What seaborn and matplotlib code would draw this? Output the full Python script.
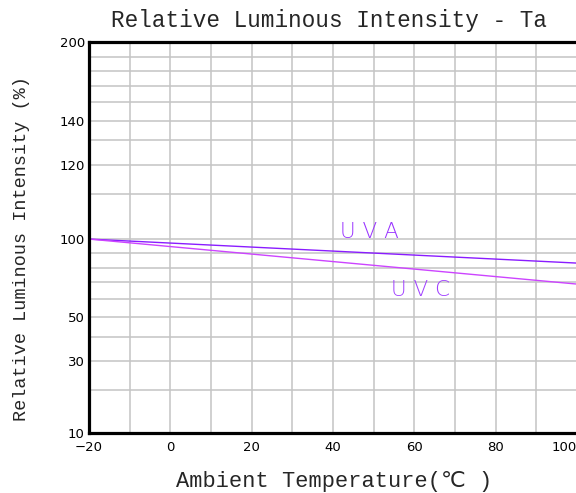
import numpy as np
import pandas as pd
import matplotlib
matplotlib.use("Agg")
import matplotlib.pyplot as plt
import seaborn as sns

# data
temps = [-20, 100]
uva = [100, 83.3]
uvc = [100, 68.8]

x_major = [-20, 0, 20, 40, 60, 80, 100]
x_minor = list(range(-20, 101, 10))

# the chart uses an odd compressed scale: grid values and where they sit (0 = bottom, 1 = top)
y_grid = [10, 20, 30, 40, 50, 60, 70, 80, 90, 100,
          110, 120, 130, 140, 150, 160, 170, 180, 200]
y_grid_pos = [0.0, 0.110, 0.184, 0.246, 0.297, 0.343, 0.386, 0.422, 0.460, 0.496,
              0.611, 0.685, 0.749, 0.798, 0.847, 0.887, 0.926, 0.962, 1.0]
y_labels = [10, 30, 50, 100, 120, 140, 200]

df = pd.DataFrame({
    "Ta": temps * 2,
    "value": uva + uvc,
    "series": ["UVA"] * len(temps) + ["UVC"] * len(temps),
})

sns.set_theme(style="white")
mono = ["Liberation Mono", "DejaVu Sans Mono", "DejaVu Sans"]

fig = plt.figure(figsize=(5.76, 4.93), dpi=100)
ax = fig.add_axes([89 / 576, 60 / 493, 488 / 576, 391 / 493])


def fwd(v):
    return np.interp(v, y_grid, y_grid_pos)


def inv(p):
    return np.interp(p, y_grid_pos, y_grid)


ax.set_yscale("function", functions=(fwd, inv))

sns.lineplot(data=df, x="Ta", y="value", hue="series",
             palette={"UVA": "#8a1cff", "UVC": "#cc44ff"},
             linewidth=1.0, legend=False, ax=ax)

ax.set_xlim(-20, 100)
ax.set_ylim(10, 200)

ax.set_xticks(x_major)
ax.set_xticks(x_minor, minor=True)
ax.set_yticks(y_labels)
ax.set_yticks(y_grid, minor=True)
ax.set_xticklabels([f"{v:g}".replace("-", "\u2212") for v in x_major])
ax.set_yticklabels([str(v) for v in y_labels])
ax.tick_params(which="both", length=0, labelsize=9.5, colors="black")
ax.tick_params(axis="x", pad=6)
ax.tick_params(axis="y", pad=3)
ax.get_xticklabels()[-1].set_horizontalalignment("right")

ax.grid(which="both", color="#c4c4c4", linewidth=1.1)
ax.set_axisbelow(True)
ax.set_xlabel("")
ax.set_ylabel("")

for side in ["left", "bottom", "top"]:
    ax.spines[side].set_color("black")
    ax.spines[side].set_linewidth(2.3)
ax.spines["right"].set_visible(False)

ax.text(48.9, 100.3, "U V A", color="#9933ff", fontsize=15.5, fontweight="light",
        ha="center", va="baseline", family="DejaVu Sans")
ax.text(61.6, 71.5, "U V C", color="#a040ff", fontsize=15.5, fontweight="light",
        ha="center", va="top", family="DejaVu Sans")

fig.text(329 / 576, 1 - 20 / 493, "Relative Luminous Intensity - Ta",
         ha="center", va="center", fontsize=16.3, family=mono)
fig.text(22 / 576, 1 - 249 / 493, "Relative Luminous Intensity (%)",
         ha="center", va="center", rotation=90, fontsize=13.3, family=mono)
fig.text(334 / 576, 1 - 482 / 493, "Ambient Temperature(\u2103 )",
         ha="center", va="center", fontsize=15.8, family=mono)

fig.savefig("out.png", dpi=100)
